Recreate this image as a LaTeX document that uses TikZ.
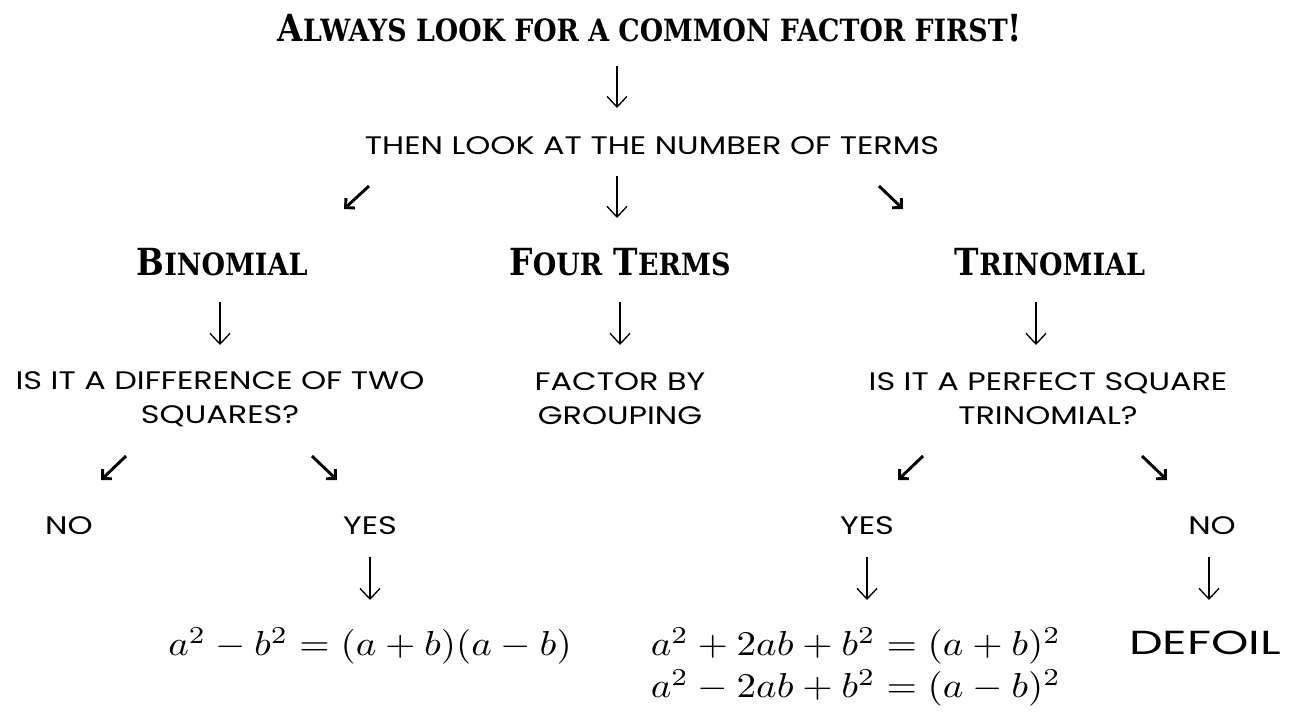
\documentclass[tikz,border=0pt]{standalone}
\usepackage{fontspec}
\usetikzlibrary{arrows.meta}
\newfontfamily\bodyfont{Poppins}
\newfontfamily\stencilfont{DejaVu Serif}
\newcommand{\lowcap}[1]{{\fontsize{23}{23}\selectfont #1}}
\tikzset{
  ttl/.style={font=\stencilfont\bfseries\fontsize{28}{28}\selectfont, inner sep=0pt, xscale=0.875},
  hd/.style={font=\stencilfont\bfseries\fontsize{28}{28}\selectfont, inner sep=0pt, xscale=0.88},
  body/.style={font=\bodyfont\fontsize{19}{25.5}\selectfont, inner sep=0pt, align=center, xscale=1.26},
  mth/.style={xscale=2.93, yscale=2.6, inner sep=0pt},
  down/.style={line width=1pt, -{Straight Barb[length=8pt,width=15pt]}},
  diag/.style={line width=2.2pt, line join=miter, -{Straight Barb[length=5pt,width=10pt,line join=miter]}}
}
\begin{document}
\begin{tikzpicture}[x=0.75pt,y=-0.75pt]
\useasboundingbox (0,0) rectangle (1292,711);
% title
\node[ttl] (title) at (650,28) {A\lowcap{LWAYS LOOK FOR A COMMON FACTOR FIRST}!};
\coordinate (a1s) at (617,66); \coordinate (a1e) at (617,108);
\draw[down] (a1s) -- (a1e);
\node[body] (then) at (652,146) {THEN LOOK AT THE NUMBER OF TERMS};
% three branches
\coordinate (a2ls) at (369,186); \coordinate (a2le) at (344,209);
\coordinate (a2ms) at (617,176); \coordinate (a2me) at (617,218);
\coordinate (a2rs) at (879,186); \coordinate (a2re) at (903,209);
\draw[diag] (a2ls) -- (a2le);
\draw[down] (a2ms) -- (a2me);
\draw[diag] (a2rs) -- (a2re);
\node[hd] (bin) at (222,262) {B\lowcap{INOMIAL}};
\node[hd] (four) at (620,262) {F\lowcap{OUR} T\lowcap{ERMS}};
\node[hd] (tri) at (1050,262) {T\lowcap{RINOMIAL}};
\coordinate (b1s) at (220,302); \coordinate (b1e) at (220,345);
\coordinate (b2s) at (620,302); \coordinate (b2e) at (620,345);
\coordinate (b3s) at (1036,302); \coordinate (b3e) at (1036,345);
\draw[down] (b1s) -- (b1e);
\draw[down] (b2s) -- (b2e);
\draw[down] (b3s) -- (b3e);
\node[body] (q1) at (220,399) {IS IT A DIFFERENCE OF TWO\\SQUARES?};
\node[body] (q2) at (620,399) {FACTOR BY\\GROUPING};
\node[body] (q3) at (1048,399) {IS IT A PERFECT SQUARE\\TRINOMIAL?};
% second level branches
\coordinate (c1s) at (126,456); \coordinate (c1e) at (101,480);
\coordinate (c2s) at (312,456); \coordinate (c2e) at (337,480);
\coordinate (c3s) at (923,456); \coordinate (c3e) at (898,480);
\coordinate (c4s) at (1142,456); \coordinate (c4e) at (1167,480);
\draw[diag] (c1s) -- (c1e);
\draw[diag] (c2s) -- (c2e);
\draw[diag] (c3s) -- (c3e);
\draw[diag] (c4s) -- (c4e);
\node[body] (no1) at (69,526) {NO};
\node[body] (yes1) at (370,526) {YES};
\node[body] (yes2) at (867,526) {YES};
\node[body] (no2) at (1212,526) {NO};
\coordinate (d1s) at (370,557); \coordinate (d1e) at (370,600);
\coordinate (d2s) at (867,557); \coordinate (d2e) at (867,600);
\coordinate (d3s) at (1209,557); \coordinate (d3e) at (1209,600);
\draw[down] (d1s) -- (d1e);
\draw[down] (d2s) -- (d2e);
\draw[down] (d3s) -- (d3e);
\node[mth] (m1) at (370,646) {$a^2-b^2=(a+b)(a-b)$};
\node[mth, anchor=west] (m2) at (650,646) {$a^2+2ab+b^2=(a+b)^2$};
\node[mth, anchor=west] (m3) at (650,688) {$a^2-2ab+b^2=(a-b)^2$};
\node[font=\bodyfont\fontsize{25}{25}\selectfont, inner sep=0pt, xscale=1.43] (defoil) at (1205,643) {DEFOIL};
\end{tikzpicture}
\end{document}
